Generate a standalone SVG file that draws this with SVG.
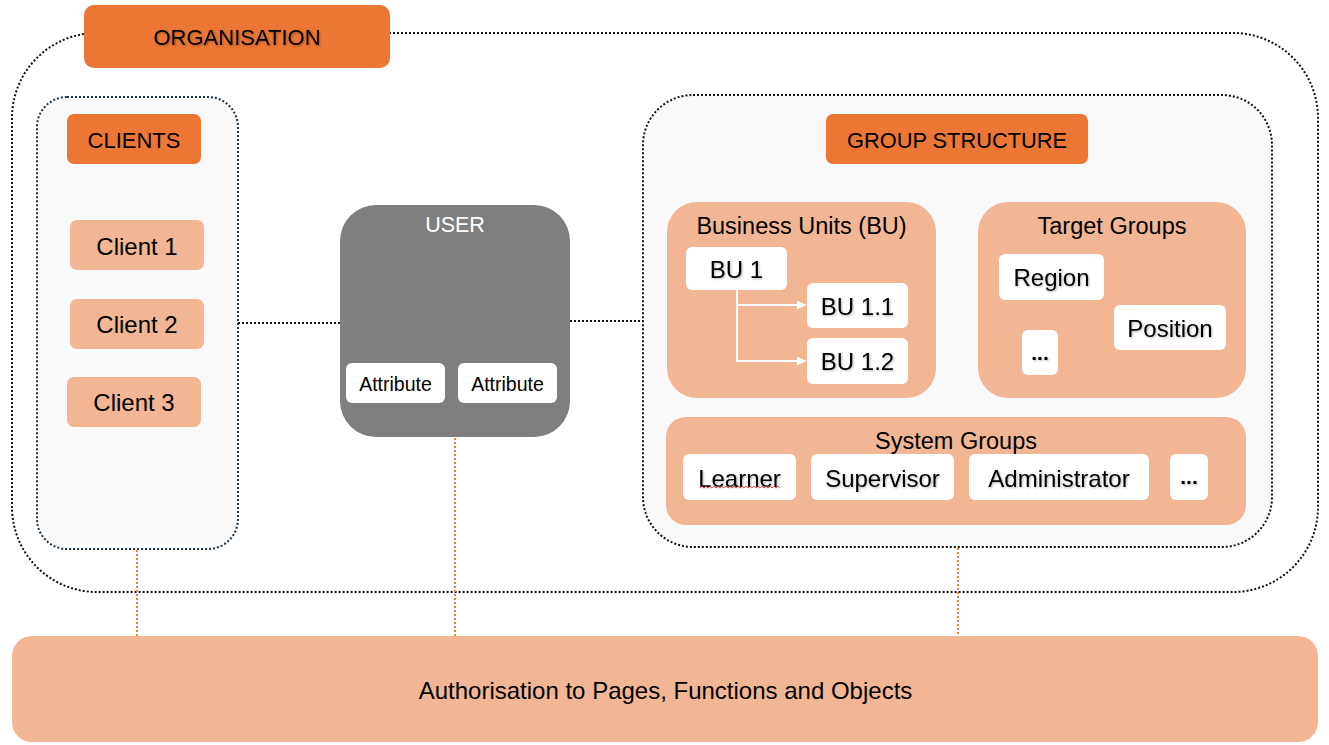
<svg xmlns="http://www.w3.org/2000/svg" width="1329" height="745" viewBox="0 0 1329 745">
<style>
text{font-family:"Liberation Sans",Arial,sans-serif;fill:#000;text-anchor:middle}
.c{dominant-baseline:central}
.dark{fill:#EC7633}
.light{fill:#F3B695}
.white{fill:#fff}
.dotk{fill:none;stroke:#111;stroke-width:2;stroke-dasharray:2 2}
.dotn{fill:#F9F9F9;stroke:#1B3346;stroke-width:2;stroke-dasharray:2 2}
.doto{fill:none;stroke:#ED7D31;stroke-width:2;stroke-dasharray:2 2}
.sh{filter:url(#ts)}
.lbl{font-size:24px}
.ttl{font-size:23.5px}
.hdr{font-size:22px}
</style>
<defs>
<filter id="ts" x="-10%" y="-20%" width="120%" height="150%">
<feDropShadow dx="1" dy="1" stdDeviation="0.8" flood-color="#000" flood-opacity="0.3"/>
</filter>
<marker id="wa" viewBox="0 0 10 10" refX="9" refY="5" markerWidth="9" markerHeight="9" orient="auto" markerUnits="userSpaceOnUse">
<path d="M0,0 L10,5 L0,10 z" fill="#fff"/>
</marker>
</defs>

<g id="organisation-frame">
<rect x="12" y="33" width="1306" height="559" rx="85" class="dotk" fill="none"/>
</g>

<g id="connectors">
<line x1="238" y1="323" x2="340" y2="323" class="dotk"/>
<line x1="570" y1="321" x2="643" y2="321" class="dotk"/>
<line x1="137" y1="550" x2="137" y2="636" class="doto"/>
<line x1="455" y1="438" x2="455" y2="636" class="doto"/>
<line x1="958" y1="548" x2="958" y2="636" class="doto"/>
</g>

<g id="organisation">
<rect x="84" y="5" width="306" height="63" rx="10" class="dark"/>
<text x="237" y="37" class="c hdr sh">ORGANISATION</text>
</g>

<g id="clients">
<rect x="37" y="97" width="201" height="452" rx="30" class="dotn"/>
<rect x="67" y="114" width="134" height="50" rx="7" class="dark"/>
<text x="134" y="140" class="c hdr">CLIENTS</text>
</g>
<g id="client1">
<rect x="70" y="220" width="134" height="50" rx="7" class="light"/>
<text x="137" y="246" class="c lbl">Client 1</text>
</g>
<g id="client2">
<rect x="70" y="299" width="134" height="50" rx="7" class="light"/>
<text x="137" y="324" class="c lbl">Client 2</text>
</g>
<g id="client3">
<rect x="67" y="377" width="134" height="50" rx="7" class="light"/>
<text x="134" y="402" class="c lbl">Client 3</text>
</g>

<g id="user">
<rect x="340" y="205" width="230" height="232" rx="36" fill="#7F7F7F"/>
<text x="455" y="225" class="c" style="font-size:21.5px;fill:#fff">USER</text>
<rect x="346" y="363" width="99" height="40" rx="6" class="white"/>
<text x="395.5" y="384" class="c" style="font-size:19.5px">Attribute</text>
<rect x="458" y="363" width="99" height="40" rx="6" class="white"/>
<text x="507.5" y="384" class="c" style="font-size:19.5px">Attribute</text>
</g>

<g id="group-structure">
<rect x="643" y="95" width="629" height="452" rx="50" class="dotk" style="fill:#F9F9F9"/>
<rect x="826" y="114" width="262" height="50" rx="7" class="dark"/>
<text x="957" y="140" class="c" style="font-size:21.8px">GROUP STRUCTURE</text>
</g>

<g id="business-units">
<rect x="667" y="202" width="269" height="196" rx="30" class="light"/>
<text x="801.5" y="226" class="c ttl">Business Units (BU)</text>
</g>
<g id="bu1">
<rect x="686" y="247" width="101" height="43" rx="6" class="white"/>
<text x="736.5" y="269" class="c lbl sh">BU 1</text>
</g>
<g id="bu11">
<rect x="807" y="283" width="101" height="45" rx="6" class="white"/>
<text x="857.5" y="306" class="c lbl sh">BU 1.1</text>
</g>
<g id="bu12">
<rect x="807" y="338" width="101" height="46" rx="6" class="white"/>
<text x="857.5" y="361" class="c lbl sh">BU 1.2</text>
</g>
<g id="bu-connectors" fill="none" stroke="#fff" stroke-width="2">
<path d="M737,290 V361 H805" marker-end="url(#wa)"/>
<path d="M737,305 H805" marker-end="url(#wa)"/>
</g>

<g id="target-groups">
<rect x="978" y="202" width="268" height="196" rx="30" class="light"/>
<text x="1112" y="226" class="c ttl">Target Groups</text>
</g>
<g id="region">
<rect x="999" y="254" width="105" height="46" rx="6" class="white"/>
<text x="1051.5" y="277" class="c lbl sh">Region</text>
</g>
<g id="position">
<rect x="1114" y="305" width="112" height="45" rx="6" class="white"/>
<text x="1170" y="328" class="c lbl sh">Position</text>
</g>
<g id="tg-more">
<rect x="1022" y="330" width="36" height="45" rx="6" class="white"/>
<text x="1040" y="360" class="lbl sh" style="font-size:21px;font-weight:bold">...</text>
</g>

<g id="system-groups">
<rect x="666" y="417" width="580" height="108" rx="20" class="light"/>
<text x="956" y="441" class="c ttl">System Groups</text>
</g>
<g id="learner">
<rect x="683" y="454" width="113" height="46" rx="6" class="white"/>
<text x="739.5" y="478" class="c lbl sh">Learner</text>
<path d="M700,488 l2,-2 l2,2 l2,-2 l2,2 l2,-2 l2,2 l2,-2 l2,2 l2,-2 l2,2 l2,-2 l2,2 l2,-2 l2,2 l2,-2 l2,2 l2,-2 l2,2 l2,-2 l2,2 l2,-2 l2,2 l2,-2 l2,2 l2,-2 l2,2 l2,-2 l2,2 l2,-2 l2,2 l2,-2 l2,2 l2,-2 l2,2 l2,-2 l2,2 l2,-2 l2,2 l2,-2 l2,2" fill="none" stroke="#E0302A" stroke-width="0.8"/>
</g>
<g id="supervisor">
<rect x="811" y="454" width="143" height="46" rx="6" class="white"/>
<text x="882.5" y="478" class="c lbl sh">Supervisor</text>
</g>
<g id="administrator">
<rect x="969" y="454" width="180" height="46" rx="6" class="white"/>
<text x="1059" y="478" class="c lbl sh">Administrator</text>
</g>
<g id="sg-more">
<rect x="1170" y="454" width="38" height="46" rx="6" class="white"/>
<text x="1189" y="484" class="lbl sh" style="font-size:21px;font-weight:bold">...</text>
</g>

<g id="authorisation">
<rect x="12" y="636" width="1306" height="106" rx="20" class="light"/>
<text x="665.5" y="690" class="c" style="font-size:24px">Authorisation to Pages, Functions and Objects</text>
</g>
</svg>
